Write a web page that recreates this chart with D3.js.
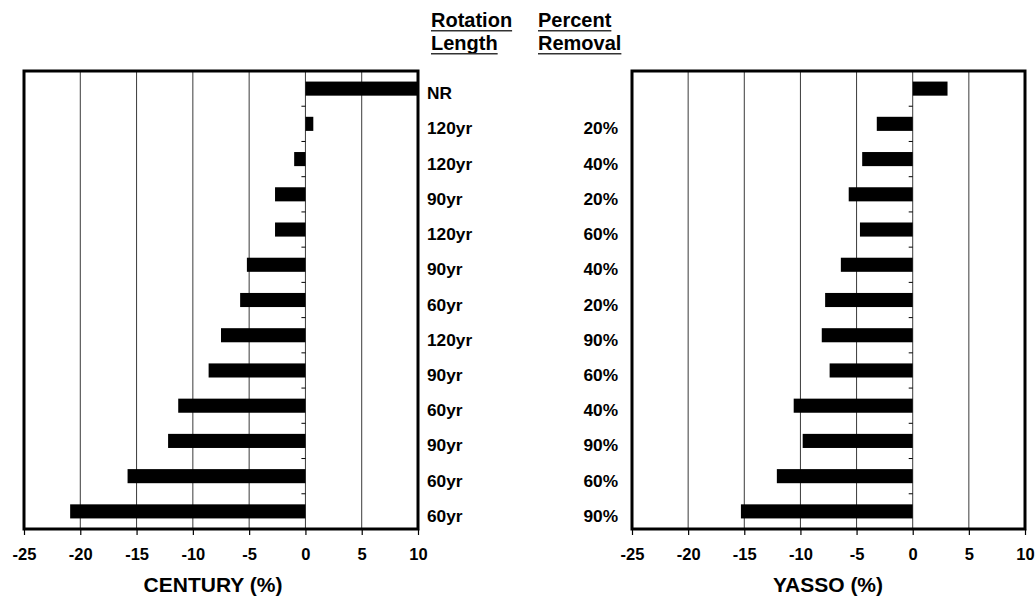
<!DOCTYPE html>
<html>
<head>
<meta charset="utf-8">
<script src="https://cdn.jsdelivr.net/npm/d3@7"></script>
<style>
  html, body { margin: 0; padding: 0; background: #fff; }
  svg text { font-family: "Liberation Sans", Arial, Helvetica, sans-serif; font-weight: bold; fill: #000; }
</style>
</head>
<body>
<svg id="chart" width="1036" height="596"></svg>
<script>
// ---- data ----
const rotationLength = ["NR","120yr","120yr","90yr","120yr","90yr","60yr","120yr","90yr","60yr","90yr","60yr","60yr"];
const percentRemoval = ["","20%","40%","20%","60%","40%","20%","90%","60%","40%","90%","60%","90%"];
const centuryValues = [10, 0.7, -1.0, -2.7, -2.7, -5.2, -5.8, -7.5, -8.6, -11.3, -12.2, -15.8, -20.9];
const yassoValues   = [3.1, -3.2, -4.5, -5.7, -4.7, -6.4, -7.8, -8.1, -7.4, -10.6, -9.8, -12.1, -15.3];
const xTicks = [-25, -20, -15, -10, -5, 0, 5, 10];
const xDomain = [-25, 10];
const headers = [["Rotation","Length"],["Percent","Removal"]];
const titles = ["CENTURY (%)", "YASSO (%)"];

const svg = d3.select("#chart");
const plotTop = 71, plotBottom = 529;

const y = d3.scaleBand().domain(d3.range(rotationLength.length)).range([plotTop, plotBottom])
  .paddingInner(0.6).paddingOuter(0.3);

function panel(values, x0, x1, title, titleX) {
  const x = d3.scaleLinear().domain(xDomain).range([x0, x1]);
  const g = svg.append("g");
  // gridlines
  g.selectAll("line.grid").data(xTicks.filter(t => t !== xDomain[0] && t !== xDomain[1]))
    .enter().append("line")
    .attr("x1", d => x(d)).attr("x2", d => x(d))
    .attr("y1", plotTop).attr("y2", plotBottom)
    .attr("stroke", "#3a3a3a").attr("stroke-width", 1);
  // small ticks on the zero line between bars
  g.selectAll("line.ytick").data(d3.range(1, values.length))
    .enter().append("line")
    .attr("x1", x(0) - 4).attr("x2", x(0))
    .attr("y1", d => y(d) - y.step() * y.paddingInner() / 2)
    .attr("y2", d => y(d) - y.step() * y.paddingInner() / 2)
    .attr("stroke", "#000").attr("stroke-width", 1);
  // bars
  g.selectAll("rect.bar").data(values).enter().append("rect")
    .attr("x", d => x(Math.min(0, d)))
    .attr("width", d => Math.abs(x(d) - x(0)))
    .attr("y", (d, i) => y(i))
    .attr("height", y.bandwidth())
    .attr("fill", "#000");
  // frame
  g.append("rect").attr("x", x0).attr("y", plotTop)
    .attr("width", x1 - x0).attr("height", plotBottom - plotTop)
    .attr("fill", "none").attr("stroke", "#000").attr("stroke-width", 3);
  // bottom axis
  const ax = g.append("g").attr("transform", `translate(0,${plotBottom})`)
    .call(d3.axisBottom(x).tickValues(xTicks).tickSize(6).tickPadding(13).tickFormat(d => String(d)));
  ax.select(".domain").remove();
  ax.selectAll(".tick line").attr("stroke", "#000").attr("stroke-width", 1.2);
  ax.selectAll(".tick text").attr("font-size", 16.5).attr("fill", "#000")
    .style("font-family", '"Liberation Sans", Arial, sans-serif').style("font-weight", "bold");
  // title
  svg.append("text").attr("x", titleX).attr("y", 592).attr("text-anchor", "middle")
    .attr("font-size", 21).text(title);
}

panel(centuryValues, 24, 418, titles[0], 213);
panel(yassoValues, 632, 1025, titles[1], 828);

// row labels
const lblOffset = 10.5;
svg.selectAll("text.rot").data(rotationLength).enter().append("text")
  .attr("x", 427).attr("y", (d, i) => y(i) + y.bandwidth() / 2 + lblOffset)
  .attr("font-size", 17.3).text(d => d);
svg.selectAll("text.pct").data(percentRemoval).enter().append("text")
  .attr("x", 618).attr("text-anchor", "end")
  .attr("y", (d, i) => y(i) + y.bandwidth() / 2 + lblOffset)
  .attr("font-size", 17.3).text(d => d);

// headers with underline
const headerX = [431, 538];
const headerY = [27, 50];
headers.forEach((pair, c) => {
  pair.forEach((txt, r) => {
    const t = svg.append("text").attr("x", headerX[c]).attr("y", headerY[r])
      .attr("font-size", 20).text(txt);
    const w = t.node().getComputedTextLength();
    svg.append("line").attr("x1", headerX[c]).attr("x2", headerX[c] + w)
      .attr("y1", headerY[r] + 3.8).attr("y2", headerY[r] + 3.8)
      .attr("stroke", "#333").attr("stroke-width", 1.5);
  });
});
</script>
</body>
</html>
